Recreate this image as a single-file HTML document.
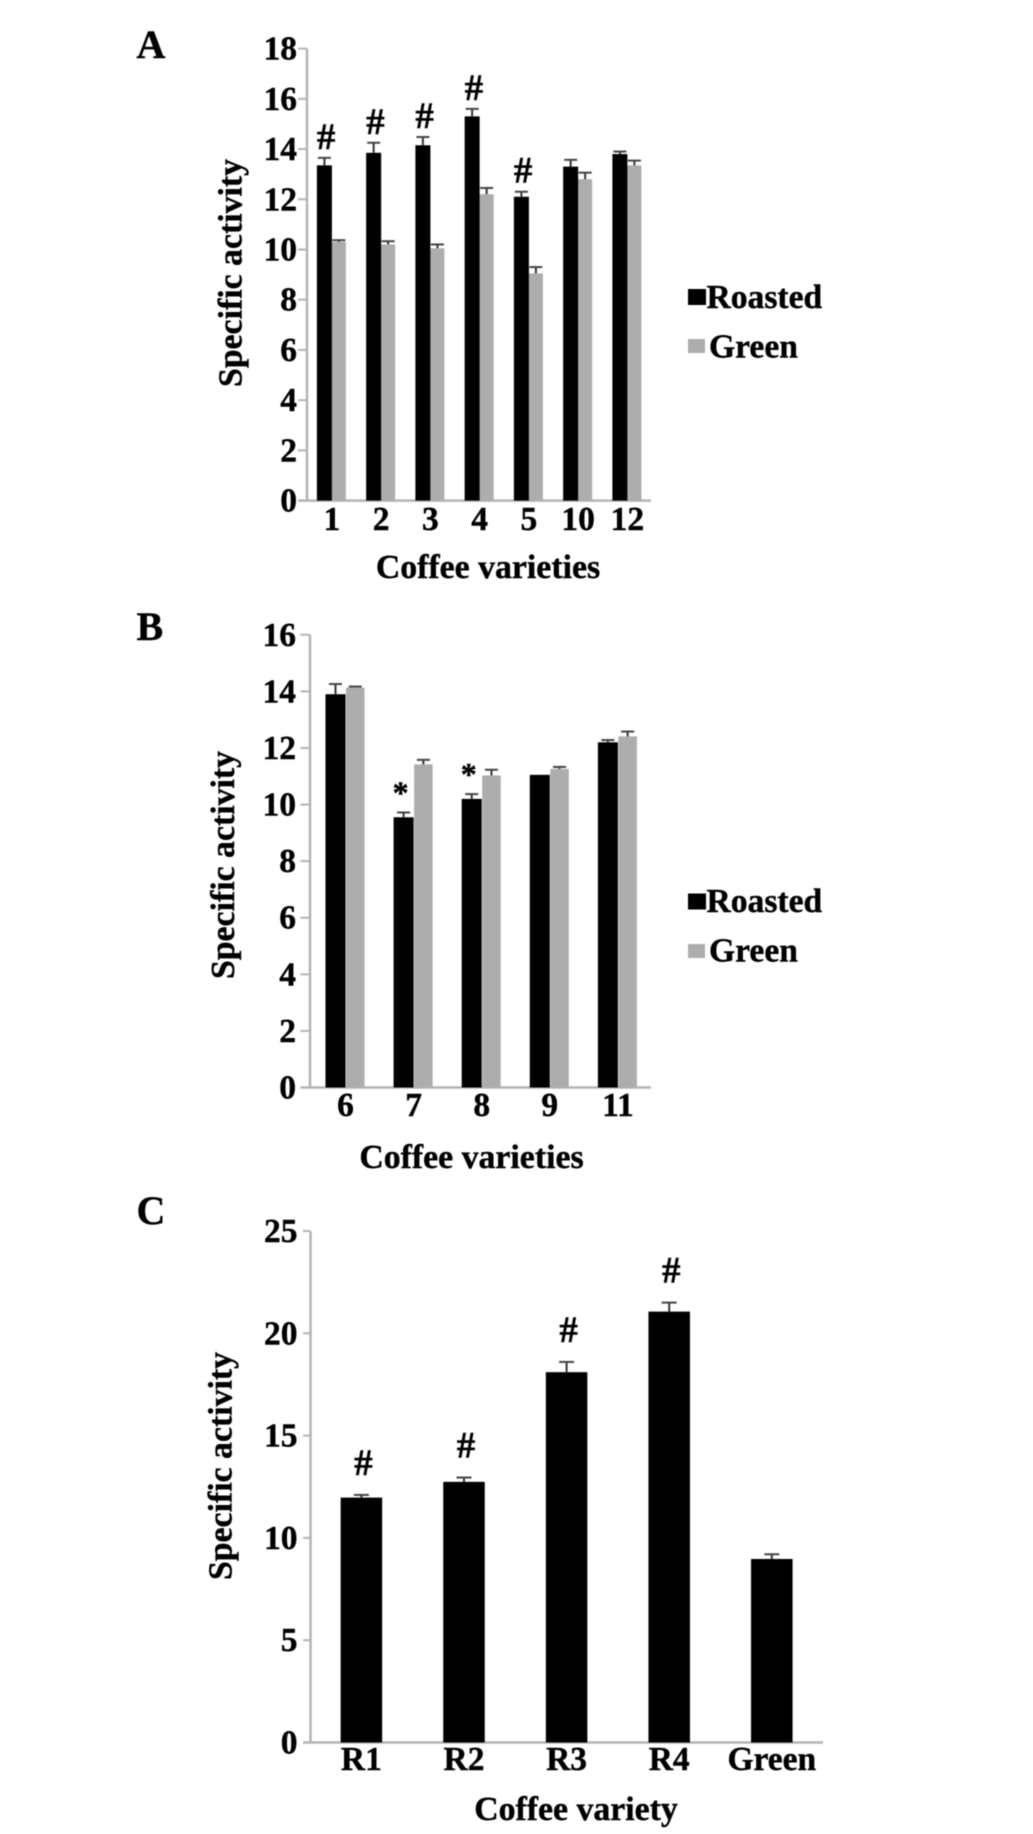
<!DOCTYPE html>
<html lang="en">
<head>
<meta charset="utf-8">
<title>Specific activity of coffee varieties</title>
<style>
html,body{margin:0;padding:0;background:#fff;width:1033px;height:1834px;overflow:hidden}
svg{display:block;filter:blur(0.5px)}
text{font-family:"Liberation Serif",serif;font-weight:bold;fill:#000;stroke:#000;stroke-width:0.4px}
</style>
</head>
<body>
<svg id="figure" width="1033" height="1834" viewBox="0 0 1033 1834" xmlns="http://www.w3.org/2000/svg">
  <rect width="1033" height="1834" fill="#fff"/>
  <text x="136.5" y="58" font-size="40">A</text>
  <text x="136.5" y="640" font-size="40">B</text>
  <text x="136.5" y="1224" font-size="40">C</text>

  <text transform="translate(241.5 273) rotate(-90)" text-anchor="middle" font-size="33.8">Specific activity</text>
  <text x="488" y="578" text-anchor="middle" font-size="33.8">Coffee varieties</text>
  <text transform="translate(234 865) rotate(-90)" text-anchor="middle" font-size="33.8">Specific activity</text>
  <text x="471.5" y="1168" text-anchor="middle" font-size="33.8">Coffee varieties</text>
  <text transform="translate(231.5 1466) rotate(-90)" text-anchor="middle" font-size="33.8">Specific activity</text>
  <text x="576" y="1820" text-anchor="middle" font-size="33.8">Coffee variety</text>

  <g>
    <rect x="688" y="289" width="18" height="16" fill="#000"/>
    <text x="706.5" y="308" font-size="33.6">Roasted</text>
    <rect x="688" y="339" width="17" height="14" fill="#adadad"/>
    <text x="709" y="357.5" font-size="33.6">Green</text>
  </g>
  <g>
    <rect x="688" y="893.5" width="18" height="16" fill="#000"/>
    <text x="706.5" y="912" font-size="33.6">Roasted</text>
    <rect x="688" y="944" width="17" height="14" fill="#adadad"/>
    <text x="709" y="961.5" font-size="33.6">Green</text>
  </g>
  <g id="plots"></g>
</svg>
<script>
// Panel A data
const aCategories = ["1", "2", "3", "4", "5", "10", "12"];
const aRoasted = [13.35, 13.85, 14.15, 15.3, 12.1, 13.3, 13.8];
const aGreen = [10.3, 10.2, 10.05, 12.2, 9.05, 12.8, 13.35];
const aRoastedErr = [0.3, 0.4, 0.33, 0.3, 0.2, 0.27, 0.1];
const aGreenErr = [0.07, 0.13, 0.15, 0.25, 0.25, 0.26, 0.19];
const aMarks = ["#", "#", "#", "#", "#", "", ""];
const aTicks = [0, 2, 4, 6, 8, 10, 12, 14, 16, 18];

// Panel B data
const bCategories = ["6", "7", "8", "9", "11"];
const bRoasted = [13.9, 9.55, 10.2, 11.05, 12.2];
const bGreen = [14.13, 11.42, 11.03, 11.26, 12.41];
const bRoastedErr = [0.36, 0.17, 0.17, 0, 0.08];
const bGreenErr = [0.04, 0.16, 0.2, 0.07, 0.17];
const bMarks = ["", "*", "*", "", ""];
const bTicks = [0, 2, 4, 6, 8, 10, 12, 14, 16];

// Panel C data
const cCategories = ["R1", "R2", "R3", "R4", "Green"];
const cValues = [11.97, 12.74, 18.1, 21.06, 8.97];
const cErr = [0.13, 0.21, 0.5, 0.44, 0.23];
const cMarks = ["#", "#", "#", "#", ""];
const cTicks = [0, 5, 10, 15, 20, 25];

const SVG_NS = "http://www.w3.org/2000/svg";
const plots = document.getElementById("plots");

function mk(parent, tag, attrs, txt) {
  const node = document.createElementNS(SVG_NS, tag);
  for (const k in attrs) node.setAttribute(k, attrs[k]);
  if (txt !== undefined) node.textContent = txt;
  parent.appendChild(node);
  return node;
}

function drawAxes(panel) {
  const yScale = v => panel.yBase - (v / panel.yMax) * (panel.yBase - panel.yTop);
  const xBand = i => panel.xStart + panel.xStep * i;
  const g = mk(plots, "g", {});
  
  

  const yAxis = mk(g, "line", {x1: panel.axisX, x2: panel.axisX, y1: yScale(panel.yMax), y2: panel.yBase, stroke: "#b4b4b4", "stroke-width": 2.5});
  
  

  const xAxis = mk(g, "line", {x1: panel.tickLeft, x2: panel.xEnd, y1: panel.yBase, y2: panel.yBase, stroke: "#b4b4b4", "stroke-width": 2.5});
  
  

  panel.ticks.forEach(t => {
    const tick = mk(g, "line", {x1: panel.tickLeft, x2: panel.axisX, y1: yScale(t), y2: yScale(t), stroke: "#b4b4b4", "stroke-width": 2});
    
    

    const label = mk(g, "text", {x: panel.labelRight, y: yScale(t) + 11, "text-anchor": "end", "font-size": 33.5}, String(t));
    
    
  });

  panel.categories.forEach((c, i) => {
    const label = mk(g, "text", {x: xBand(i), y: panel.xLabelY, "text-anchor": "middle", "font-size": 33.5}, c);
    
    
  });
  return {g, yScale, xBand};
}

function drawError(g, name, cx, value, err, capW, yScale) {
  if (err <= 0) return;
  const stem = mk(g, "line", {x1: cx, x2: cx, y1: yScale(value), y2: yScale(value + err), stroke: "#333", "stroke-width": 2});
  
  

  const cap = mk(g, "line", {x1: cx - capW / 2, x2: cx + capW / 2, y1: yScale(value + err), y2: yScale(value + err), stroke: "#444", "stroke-width": 2});
  
  
}

function drawMark(g, name, glyph, cx, value, err, gap, size, yScale) {
  if (!glyph) return;
  const m = mk(g, "text", {x: cx, y: yScale(value + err) - gap, "text-anchor": "middle", "font-size": size}, glyph);
  
  
}

function drawGrouped(panel) {
  const {g, yScale, xBand} = drawAxes(panel);
  panel.categories.forEach((c, i) => {
    const mid = xBand(i);
    const rLeft = mid - panel.roastedW;
    const gLeft = mid + panel.gapW;

    const barG = mk(g, "rect", {x: gLeft, y: yScale(panel.green[i]), width: panel.greenW, height: panel.yBase - yScale(panel.green[i]), fill: "#adadad"});
    
    

    const barR = mk(g, "rect", {x: rLeft, y: yScale(panel.roasted[i]), width: panel.roastedW, height: panel.yBase - yScale(panel.roasted[i]), fill: "#000"});
    
    

    drawError(g, 'roasted-' + panel.id + '-' + c, rLeft + panel.roastedW / 2, panel.roasted[i], panel.roastedErr[i], 13, yScale);
    drawError(g, 'green-' + panel.id + '-' + c, gLeft + panel.greenW / 2, panel.green[i], panel.greenErr[i], 13, yScale);
    drawMark(g, panel.id + '-' + c, panel.marks[i], rLeft + panel.roastedW / 2 + panel.markDx, panel.roasted[i], panel.roastedErr[i], panel.markGap, panel.markSize, yScale);
  });
}

function drawSingle(panel) {
  const {g, yScale, xBand} = drawAxes(panel);
  panel.categories.forEach((c, i) => {
    const mid = xBand(i);
    const bar = mk(g, "rect", {x: mid - panel.barW / 2, y: yScale(panel.values[i]), width: panel.barW, height: panel.yBase - yScale(panel.values[i]), fill: "#000"});
    
    

    drawError(g, c, mid, panel.values[i], panel.err[i], 15, yScale);
    drawMark(g, c, panel.marks[i], mid + panel.markDx, panel.values[i], panel.err[i], panel.markGap, panel.markSize, yScale);
  });
}

drawGrouped({
  id: "a", categories: aCategories, roasted: aRoasted, green: aGreen, roastedErr: aRoastedErr, greenErr: aGreenErr, marks: aMarks, ticks: aTicks,
  yMax: 18, yTop: 48.6, yBase: 500.6, axisX: 307, tickLeft: 298, xEnd: 651, labelRight: 297,
  xStart: 331.9, xStep: 49.25, roastedW: 15, greenW: 14, gapW: 0, xLabelY: 530, markGap: 9, markSize: 37, markDx: 1.7
});

drawGrouped({
  id: "b", categories: bCategories, roasted: bRoasted, green: bGreen, roastedErr: bRoastedErr, greenErr: bGreenErr, marks: bMarks, ticks: bTicks,
  yMax: 16, yTop: 634.8, yBase: 1087.5, axisX: 310, tickLeft: 300.5, xEnd: 651, labelRight: 296,
  xStart: 345.5, xStep: 68.1, roastedW: 20, greenW: 18.5, gapW: 0.5, xLabelY: 1116, markGap: 9, markSize: 32, markDx: -3
});

drawSingle({
  id: "c", categories: cCategories, values: cValues, err: cErr, marks: cMarks, ticks: cTicks,
  yMax: 25, yTop: 1231, yBase: 1742.5, axisX: 310.5, tickLeft: 303, xEnd: 823, labelRight: 297.5,
  xStart: 361.4, xStep: 102.6, barW: 41.5, xLabelY: 1770, markGap: 20, markSize: 37, markDx: 2
});
</script>
</body>
</html>
